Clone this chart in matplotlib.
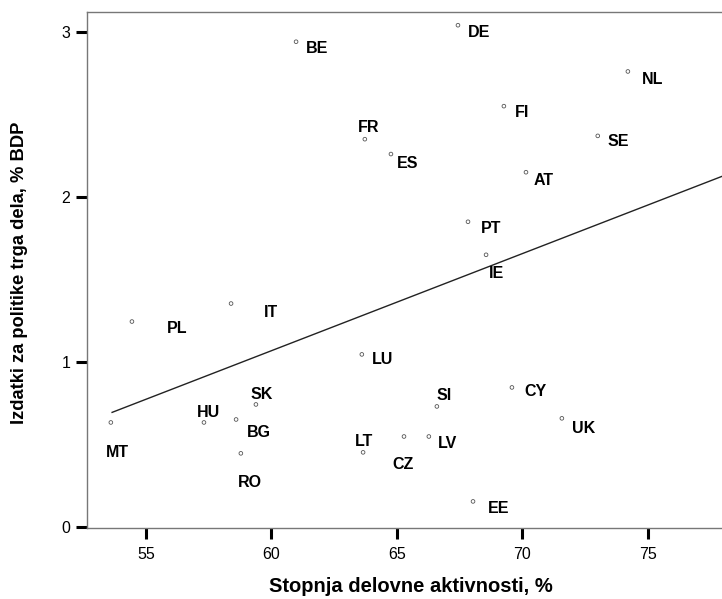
import matplotlib
matplotlib.use("Agg")
import matplotlib.pyplot as plt

countries = ["BE", "FR", "DE", "NL", "FI", "SE", "ES", "AT", "PT", "IE",
             "IT", "PL", "LU", "MT", "HU", "BG", "SK", "RO", "LT", "SI",
             "CZ", "LV", "CY", "UK", "EE"]
employment = [60.98, 63.72, 67.43, 74.20, 69.26, 73.00, 64.76, 70.14, 67.83, 68.55,
              58.39, 54.44, 63.60, 53.60, 57.31, 58.59, 59.38, 58.78, 63.65, 66.59,
              65.28, 66.27, 69.58, 71.57, 68.03]
spending = [2.94, 2.35, 3.04, 2.76, 2.55, 2.37, 2.26, 2.15, 1.85, 1.65,
            1.355, 1.246, 1.047, 0.635, 0.635, 0.653, 0.744, 0.448, 0.454, 0.732,
            0.55, 0.55, 0.847, 0.66, 0.157]
fit_x = [53.65, 77.95]
fit_y = [0.696, 2.125]
x_ticks = [55, 60, 65, 70, 75]
y_ticks = [0, 1, 2, 3]

# label offsets in pixels (dx right, dy down)
label_offsets = {
    "BE": (10, 7), "FR": (-7, -12), "DE": (10, 7), "NL": (14, 8), "FI": (11, 6),
    "SE": (10, 6), "ES": (6, 9), "AT": (8, 8), "PT": (13, 7), "IE": (3, 19),
    "IT": (33, 9), "PL": (35, 7), "LU": (10, 5), "MT": (-5, 30), "HU": (-7, -10),
    "BG": (11, 13), "SK": (-5, -10), "RO": (-3, 29), "LT": (-8, -11), "SI": (0, -11),
    "CZ": (-12, 28), "LV": (9, 7), "CY": (12, 4), "UK": (10, 10), "EE": (15, 7),
}

fig = plt.figure(figsize=(7.22, 5.99), dpi=100)
ax = fig.add_axes([87 / 722, 1 - 528 / 599, 1 - 87 / 722, (528 - 12) / 599])

ax.plot(fit_x, fit_y, color="#222222", lw=1.0, zorder=2)
ax.scatter(employment, spending, s=7, facecolors="none", edgecolors="#555555",
           linewidths=0.6, zorder=3)

for c, x, y in zip(countries, employment, spending):
    dx, dy = label_offsets[c]
    ax.annotate(c, (x, y), xytext=(dx, -dy), textcoords="offset pixels",
                ha="left", va="center", fontsize=11.5, fontweight="bold",
                family=["Liberation Sans", "DejaVu Sans"], color="black")

ax.set_xlim(52.65, 77.95)
ax.set_ylim(-0.004, 3.12)
ax.set_xticks(x_ticks)
ax.set_yticks(y_ticks)
ax.set_xticklabels([str(t) for t in x_ticks])
ax.set_yticklabels([str(t) for t in y_ticks])
for lab in ax.get_xticklabels() + ax.get_yticklabels():
    lab.set_family(["Liberation Sans", "DejaVu Sans"])
    lab.set_fontsize(11.5)

ax.tick_params(axis="both", direction="out", length=8, width=2.2, color="black")
ax.tick_params(axis="x", pad=6)
ax.tick_params(axis="y", pad=4)

for side in ["left", "top", "bottom"]:
    ax.spines[side].set_color("#777777")
    ax.spines[side].set_linewidth(1.0)
ax.spines["right"].set_visible(False)

fig.text(411 / 722, 1 - 587 / 599, "Stopnja delovne aktivnosti, %", ha="center", va="center",
         fontsize=14.5, fontweight="bold", family=["Liberation Sans", "DejaVu Sans"])
fig.text(20 / 722, 1 - 273 / 599, "Izdatki za politike trga dela, % BDP", ha="center", va="center",
         rotation=90, fontsize=13.2, fontweight="bold", family=["Liberation Sans", "DejaVu Sans"])

fig.savefig("out.png", dpi=100)
